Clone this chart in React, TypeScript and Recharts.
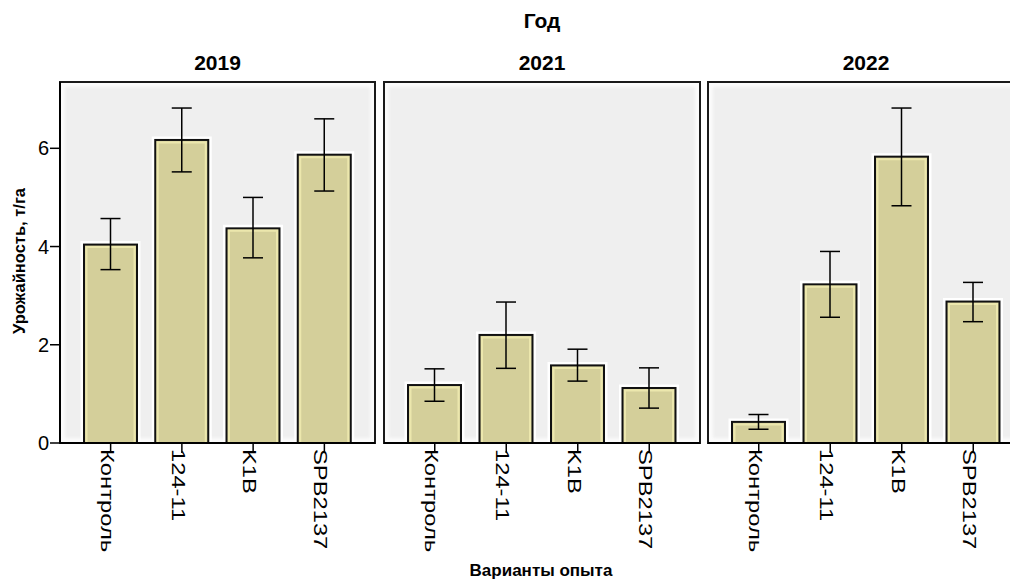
import React from 'react'
import { BarChart, Bar, XAxis, YAxis, ErrorBar } from 'recharts'

// variants and yields (t/ha), with upper/lower ends of the error bars
const categories = ['Контроль', '124-11', 'K1B', 'SPB2137']
const years = ['2019', '2021', '2022']

const mean2019 = [4.04, 6.17, 4.37, 5.87]
const high2019 = [4.57, 6.82, 5.0, 6.6]
const low2019 = [3.53, 5.52, 3.77, 5.13]

const mean2021 = [1.18, 2.2, 1.58, 1.12]
const high2021 = [1.51, 2.87, 1.91, 1.53]
const low2021 = [0.85, 1.52, 1.26, 0.71]

const mean2022 = [0.43, 3.23, 5.83, 2.88]
const high2022 = [0.58, 3.9, 6.82, 3.27]
const low2022 = [0.28, 2.56, 4.83, 2.47]

const yTicks = [0, 2, 4, 6]

const FONT = "Arial, 'Liberation Sans', sans-serif"
const PLOT_TOP = 82
const PLOT_BOTTOM = 443
const CHART_H = 579

const makeRows = (means: number[], high: number[], low: number[]) =>
  categories.map((name, i) => ({
    name,
    mean: means[i],
    err: [means[i] - low[i], high[i] - means[i]],
  }))

const panels = [
  { year: years[0], left: 60, width: 315, data: makeRows(mean2019, high2019, low2019), showY: true },
  { year: years[1], left: 384, width: 316, data: makeRows(mean2021, high2021, low2021), showY: false },
  { year: years[2], left: 708, width: 316, data: makeRows(mean2022, high2022, low2022), showY: false },
]

const GlowBar = (props: any) => {
  const { x, y, width, height } = props
  if (!height || height <= 0) return null
  const b = y + height
  return (
    <g>
      <path
        d={`M${x - 2},${b} V${y - 2} H${x + width + 2} V${b}`}
        fill="none"
        stroke="#ffffff"
        strokeWidth={3}
      />
      <rect x={x} y={y} width={width} height={height} fill="#d4cf9a" stroke="#111" strokeWidth={2} />
      <path
        d={`M${x + 2.5},${b} V${y + 2.5} H${x + width - 2.5} V${b}`}
        fill="none"
        stroke="#ece7ad"
        strokeWidth={2}
      />
    </g>
  )
}

const RotatedTick = (props: any) => {
  const { x, y, payload } = props
  return (
    <g transform={`translate(${x},${y - 4}) rotate(90) scale(1.25,1)`}>
      <text x={0} y={10} textAnchor="start" fontSize={19} fill="#000" fontFamily={FONT}>
        {payload.value}
      </text>
    </g>
  )
}

const YTick = (props: any) => {
  const { x, y, payload } = props
  return (
    <text x={x} y={y + 7} textAnchor="end" fontSize={20} fill="#000" fontFamily={FONT}>
      {payload.value}
    </text>
  )
}

function Panel({ p }: { p: (typeof panels)[number] }) {
  const leftPad = p.showY ? 0 : 5
  const chartLeft = p.showY ? 0 : p.left - 5
  const chartW = p.showY ? p.left + p.width + 5 : p.width + 10
  return (
    <>
      <div
        style={{
          position: 'absolute',
          left: p.left - 1,
          top: PLOT_TOP - 1,
          width: p.width + 2,
          height: PLOT_BOTTOM - PLOT_TOP + 2,
          boxSizing: 'border-box',
          border: '2px solid #1a1a1a',
          background: '#efefef',
          boxShadow: 'inset 0 0 3px 4px #fbfbfb',
        }}
      />
      <div style={{ position: 'absolute', left: chartLeft, top: 0 }}>
        <BarChart
          width={chartW}
          height={CHART_H}
          data={p.data}
          margin={{ top: PLOT_TOP, right: 5, left: leftPad, bottom: 0 }}
        >
          <XAxis
            dataKey="name"
            interval={0}
            height={CHART_H - PLOT_BOTTOM}
            padding={{ left: 15, right: 15 }}
            axisLine={{ stroke: '#000', strokeWidth: 2 }}
            tickLine={{ stroke: '#000', strokeWidth: 1.5 }}
            tickSize={10}
            tickMargin={0}
            tick={<RotatedTick />}
          />
          <YAxis
            hide={!p.showY}
            width={60}
            domain={[0, 7.35]}
            ticks={yTicks}
            axisLine={{ stroke: '#000', strokeWidth: 2 }}
            tickLine={{ stroke: '#000', strokeWidth: 1.5 }}
            tickSize={10}
            tickMargin={1}
            tick={<YTick />}
          />
          <Bar dataKey="mean" barSize={53} shape={<GlowBar />} isAnimationActive={false}>
            <ErrorBar dataKey="err" width={10} stroke="#000" strokeWidth={1.5} isAnimationActive={false} />
          </Bar>
        </BarChart>
      </div>
    </>
  )
}

export default function App() {
  return (
    <div
      style={{
        position: 'relative',
        width: 1010,
        height: 579,
        overflow: 'hidden',
        background: '#fff',
        fontFamily: FONT,
      }}
    >
      <style>{'body { margin: 0; }'}</style>
      {panels.map(p => (
        <Panel key={p.year} p={p} />
      ))}
      <svg
        width={1010}
        height={579}
        style={{ position: 'absolute', left: 0, top: 0, pointerEvents: 'none' }}
      >
        <text x={542} y={28} textAnchor="middle" fontSize={21} fontWeight="bold" fontFamily={FONT}>
          Год
        </text>
        {panels.map(p => (
          <text
            key={p.year}
            x={p.left + p.width / 2}
            y={70}
            textAnchor="middle"
            fontSize={21}
            fontWeight="bold"
            fontFamily={FONT}
          >
            {p.year}
          </text>
        ))}
        <text
          transform="translate(25,261) rotate(-90)"
          textAnchor="middle"
          fontSize={16.5}
          fontWeight="bold"
          fontFamily={FONT}
        >
          Урожайность, т/га
        </text>
        <text x={541} y={576} textAnchor="middle" fontSize={17} fontWeight="bold" fontFamily={FONT}>
          Варианты опыта
        </text>
      </svg>
    </div>
  )
}
